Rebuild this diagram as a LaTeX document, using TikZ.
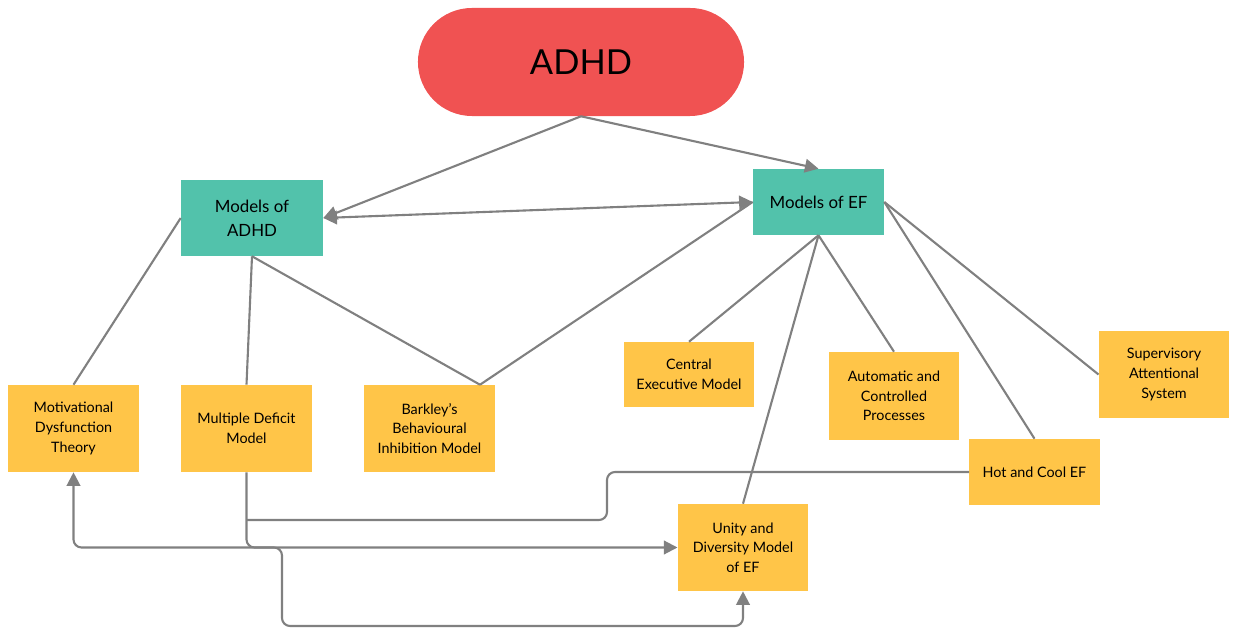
\documentclass[tikz,border=0pt]{standalone}
\usepackage{fontspec}
\setmainfont{Lato}
\usetikzlibrary{arrows.meta}

\definecolor{pillred}{HTML}{F05252}
\definecolor{modelteal}{HTML}{52C2AB}
\definecolor{noteyellow}{HTML}{FFC548}
\definecolor{linegray}{HTML}{808080}

\begin{document}
\begin{tikzpicture}[x=0.025cm,y=-0.025cm]
    \useasboundingbox (0,0) rectangle (1238,628);

    \node (adhd) at (581,62) [fill=pillred,rounded corners=1.35cm,
      minimum width=8.15cm,minimum height=2.7cm,
      font=\fontsize{24.5}{30}\selectfont] {ADHD};

    \begin{scope}[every node/.style={fill=modelteal,align=center,
        minimum width=3.55cm,font=\fontsize{12}{17}\selectfont}]
      \node (madhd) at (252,218) [minimum height=1.9cm] {Models of\\ADHD};
      \node (mef) at (818.5,202) [minimum width=3.275cm,minimum height=1.65cm] {Models of EF};
    \end{scope}

    \begin{scope}[every node/.style={fill=noteyellow,align=center,
        minimum width=3.26cm,minimum height=2.175cm,
        font=\fontsize{10.2}{14}\selectfont}]
      \node (motiv) at (73.5,428.5) {Motivational\\Dysfunction\\Theory};
      \node (multi) at (246.5,428.5) {Multiple Deficit\\Model};
      \node (barkley) at (429.5,428.5) {Barkley's\\Behavioural\\Inhibition Model};
      \node (central) at (689,374.5) [minimum height=1.625cm] {Central\\Executive Model};
      \node (auto) at (894,396) [minimum height=2.2cm] {Automatic and\\Controlled\\Processes};
      \node (superv) at (1164,374.5) {Supervisory\\Attentional\\System};
      \node (hot) at (1034.5,472) [minimum height=1.65cm] {Hot and Cool EF};
      \node (unity) at (743,547.5) {Unity and\\Diversity Model\\of EF};
    \end{scope}

    \coordinate (bend) at (607,520);
    \coordinate (low) at (282,626);

    \begin{scope}[>={Triangle[length=0.34cm,width=0.34cm]},
        every path/.style={draw=linegray,line width=1.5pt,rounded corners=0.2cm}]
      \path [->] (adhd.south) -- (madhd.east);
      \path [->] (adhd.south) -- (mef.north);
      \path [<->] (madhd.east) -- (mef.west);
      \path (madhd.west) -- (motiv.north);
      \path (madhd.south) -- (multi.north);
      \path (madhd.south) -- ([xshift=-0.375cm]barkley.north east);
      \path ([xshift=-0.375cm]barkley.north east) -- (mef.west);
      \path (mef.south) -- (central.north);
      \path (mef.south) -- (unity.north);
      \path (mef.south) -- (auto.north);
      \path (mef.east) -- (hot.north);
      \path (mef.east) -- (superv.west);
      \path (hot.west) -| (bend) -- (bend -| multi.south);
      \path [<->] (motiv.south) |- (unity.west);
      \path [->] (multi.south) |- (low |- unity.west) -- (low) -| (unity.south);
    \end{scope}
  \end{tikzpicture}
\end{document}
